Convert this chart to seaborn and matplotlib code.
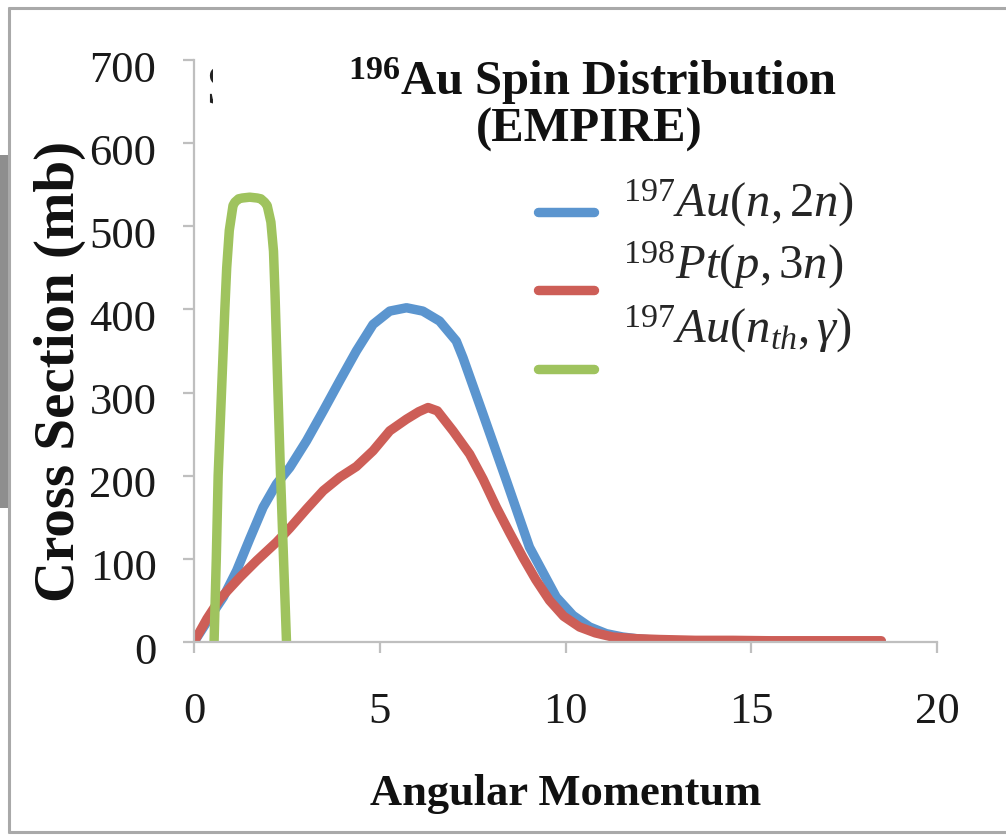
import matplotlib
matplotlib.use("Agg")
import matplotlib.pyplot as plt
import matplotlib.transforms as mtransforms
from matplotlib.lines import Line2D
from matplotlib.patches import Rectangle
import pandas as pd
import seaborn as sns

W, H = 1006, 835

# 197Au(n,2n) spin distribution
j_n2n = [0, 0.43, 0.79, 1.15, 1.5, 1.86, 2.22, 2.58, 3.03, 3.48, 3.92, 4.37,
         4.82, 5.27, 5.72, 6.16, 6.61, 7.06, 7.24, 7.78, 8.41, 9.03, 9.75,
         10.2, 10.65, 11.1, 11.54, 12.0, 12.5, 13.0, 14.0, 15.0, 16.0, 17.0,
         18.0, 18.5]
sig_n2n = [0, 30, 54, 86, 124, 162, 190, 210, 242, 278, 314, 350,
           382, 398, 402, 398, 386, 362, 342, 274, 194, 114, 54,
           32, 18, 10, 6, 3.5, 2, 1.5, 1, 0.8, 0.6, 0.5,
           0.5, 0.5]

# 198Pt(p,3n) spin distribution
j_p3n = [0, 0.35, 0.70, 1.24, 1.69, 2.22, 2.58, 3.03, 3.48, 3.92, 4.37, 4.82,
         5.27, 5.72, 6.05, 6.3, 6.55, 6.97, 7.42, 7.78, 8.14, 8.5, 8.85, 9.2,
         9.57, 9.95, 10.38, 10.8, 11.27, 11.9, 12.53, 13.5, 14.5, 15.5, 16.5,
         17.5, 18.5]
sig_p3n = [0, 28, 52, 78, 98, 120, 137, 160, 182, 198, 211, 230,
           254, 268, 277, 282, 278, 254, 226, 196, 162, 131, 102, 75,
           50, 31, 18, 11, 6, 4, 3, 2, 2, 1.5, 1.5,
           1.5, 1.5]

# 197Au(n_th,gamma) spin distribution
j_ng = [0.54, 0.60, 0.65, 0.74, 0.83, 0.88, 0.95, 1.05, 1.1, 1.2, 1.3, 1.5,
        1.7, 1.8, 1.9, 1.97, 2.07, 2.14, 2.18, 2.26, 2.33, 2.41, 2.49]
sig_ng = [0, 100, 200, 300, 400, 450, 495, 525, 529, 533, 534, 535,
          534, 533, 529, 525, 505, 470, 420, 300, 200, 100, 0]

reactions = [r"$\mathit{^{197}Au(n,2n)}$",
             r"$\mathit{^{198}Pt(p,3n)}$",
             r"$\mathit{^{197}Au(n_{th},\gamma)}$"]
colors = ["#5b95cf", "#cd5e57", "#9fc35e"]

x_ticks = [0, 5, 10, 15, 20]
y_ticks = [0, 100, 200, 300, 400, 500, 600, 700]

title_line1 = r"$^{\mathbf{196}}$Au Spin Distribution"
title_line2 = "(EMPIRE)"
x_label = "Angular Momentum"
y_label = "Cross Section (mb)"

sns.set_theme(style="white")
plt.rcParams["font.family"] = ["Liberation Serif", "DejaVu Serif"]
plt.rcParams["mathtext.fontset"] = "custom"
plt.rcParams["mathtext.rm"] = "Liberation Serif"
plt.rcParams["mathtext.it"] = "Liberation Serif:italic"
plt.rcParams["mathtext.bf"] = "Liberation Serif:bold"

df = pd.concat([
    pd.DataFrame({"J": j_n2n, "sigma": sig_n2n, "reaction": reactions[0]}),
    pd.DataFrame({"J": j_p3n, "sigma": sig_p3n, "reaction": reactions[1]}),
    pd.DataFrame({"J": j_ng, "sigma": sig_ng, "reaction": reactions[2]}),
], ignore_index=True)


def fx(px):
    return px / W


def fy(py):
    return 1 - py / H


fig = plt.figure(figsize=(W / 100, H / 100), dpi=100)
fig.patch.set_facecolor("white")

# grey strip on the left edge and the outer chart frame
fig.add_artist(Rectangle((0, fy(508)), fx(8), (508 - 155) / H,
                         transform=fig.transFigure, facecolor="#8e8e8e",
                         edgecolor="none", zorder=0))
frame_kw = dict(transform=fig.transFigure, color="#a9a9a9", linewidth=2.2,
                solid_capstyle="butt", zorder=1)
fig.add_artist(Line2D([fx(9), fx(9)], [fy(833), fy(7)], **frame_kw))
fig.add_artist(Line2D([fx(8), 1.0], [fy(8), fy(8)], **frame_kw))
fig.add_artist(Line2D([fx(8), 1.0], [fy(832), fy(832)], **frame_kw))

ax = fig.add_axes([fx(194), fy(642), (937 - 194) / W, (642 - 60) / H])
ax.set_facecolor("none")

sns.lineplot(data=df, x="J", y="sigma", hue="reaction", hue_order=reactions,
             palette=dict(zip(reactions, colors)), sort=False, estimator=None,
             linewidth=6.8, legend=False, ax=ax)
for ln in ax.get_lines():
    ln.set_solid_capstyle("round")
    ln.set_solid_joinstyle("round")

ax.set_xlim(0, 20)
ax.set_ylim(0, 700)
ax.set_xticks(x_ticks)
ax.set_yticks(y_ticks)
ax.set_xticklabels([str(v) for v in x_ticks])
ax.set_yticklabels([str(v) for v in y_ticks])

for side in ("top", "right"):
    ax.spines[side].set_visible(False)
for side in ("left", "bottom"):
    ax.spines[side].set_color("#bfbfbf")
    ax.spines[side].set_linewidth(1.6)

ax.tick_params(axis="both", which="major", bottom=True, left=True,
               direction="out", length=8, width=1.6, color="#bfbfbf",
               labelsize=32, labelcolor="#1a1a1a")
ax.tick_params(axis="x", pad=28)
ax.tick_params(axis="y", pad=19)
shift = mtransforms.ScaledTranslation(0, -6 / 100, fig.dpi_scale_trans)
for lab in ax.get_yticklabels():
    lab.set_transform(lab.get_transform() + shift)

ax.set_xlabel(x_label, fontsize=32, fontweight="bold", color="#111111")
ax.xaxis.label.set_va("baseline")
ax.xaxis.set_label_coords(0.5, (642 - 805) / 582)
ax.set_ylabel(y_label, fontsize=41, fontweight="bold", color="#111111")
ax.yaxis.label.set_va("center")
ax.yaxis.set_label_coords((60 - 194) / 743, (642 - 371) / 582)

fig.text(fx(592), fy(95), title_line1, fontsize=35, fontweight="bold",
         ha="center", va="baseline", color="#111111")
fig.text(fx(589), fy(142), title_line2, fontsize=35, fontweight="bold",
         ha="center", va="baseline", color="#111111")

# partly hidden letter peeking out behind the title
s_txt = fig.text(fx(205), fy(104), "S", fontsize=42, color="#222222",
                 ha="left", va="baseline")
s_txt.set_clip_box(mtransforms.Bbox.from_extents(0, 0, 213, H))
s_txt.set_clip_on(True)

leg = ax.legend(ax.get_lines()[:3], reactions, loc="upper left",
                bbox_to_anchor=(fx(538), fy(190)),
                bbox_transform=fig.transFigure, frameon=False, fontsize=35,
                handlelength=1.15, handletextpad=0.6, labelspacing=0.55,
                borderpad=0, borderaxespad=0)
# the label column sits a little higher than the line samples
for txt, dy in zip(leg.get_texts(), [13, 29, 43]):
    txt.set_y(dy)

fig.savefig("out.png", dpi=100, facecolor="white")
